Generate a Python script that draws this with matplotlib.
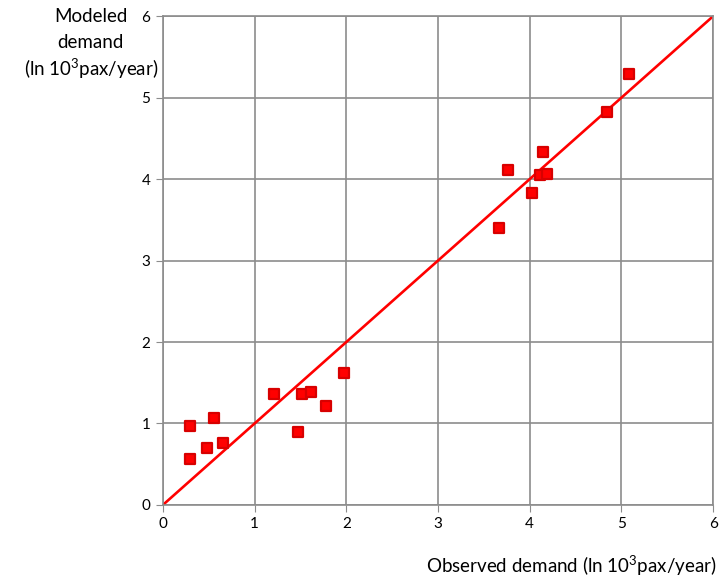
import numpy as np
import matplotlib.pyplot as plt
from matplotlib.markers import MarkerStyle

plt.rcParams['font.family'] = ['Lato', 'DejaVu Sans']
plt.rcParams['mathtext.fontset'] = 'custom'
plt.rcParams['mathtext.rm'] = 'Lato'
plt.rcParams['mathtext.it'] = 'Lato'

# observed vs modeled demand (ln 10^3 pax/year)
observed = [0.30, 0.30, 0.48, 0.56, 0.65, 1.21, 1.47, 1.52, 1.61, 1.78, 1.97,
            3.67, 3.76, 4.03, 4.11, 4.15, 4.19, 4.84, 5.08]
modeled = [0.97, 0.56, 0.70, 1.07, 0.76, 1.36, 0.90, 1.36, 1.39, 1.21, 1.62,
           3.40, 4.11, 3.83, 4.05, 4.33, 4.06, 4.82, 5.29]
ticks = [0, 1, 2, 3, 4, 5, 6]
unit = '(ln 10$^{\\mathrm{3}}$pax/year)'

fig = plt.figure(figsize=(7.21, 5.81), dpi=100)
ax = fig.add_axes([0.226, 0.131, 0.763, 0.841])

ax.plot([0, 6], [0, 6], color='#ff0000', lw=1.9, zorder=2)
ax.plot(observed, modeled, ls='none', marker=MarkerStyle('s', joinstyle='round'),
        markersize=7, markerfacecolor='#ff0000', markeredgecolor='#d80000',
        markeredgewidth=1.6, zorder=3)

ax.set_xlim(0, 6)
ax.set_ylim(0, 6)
ax.set_xticks(ticks)
ax.set_yticks(ticks)
ax.grid(True, color='#8c8c8c', lw=1.2)
ax.set_axisbelow(True)
for s in ax.spines.values():
    s.set_color('#8c8c8c')
    s.set_linewidth(1.2)
ax.tick_params(length=5, color='#8c8c8c', labelsize=11, pad=4)

# y label in three lines, top left
for txt, y in zip(['Modeled', 'demand', unit], [0.971, 0.926, 0.881]):
    fig.text(0.126, y, txt, ha='center', va='center', fontsize=13.5)
fig.text(0.994, 0.026, 'Observed demand ' + unit, ha='right', va='center',
         fontsize=13.5)

fig.savefig('out.png', dpi=100)
